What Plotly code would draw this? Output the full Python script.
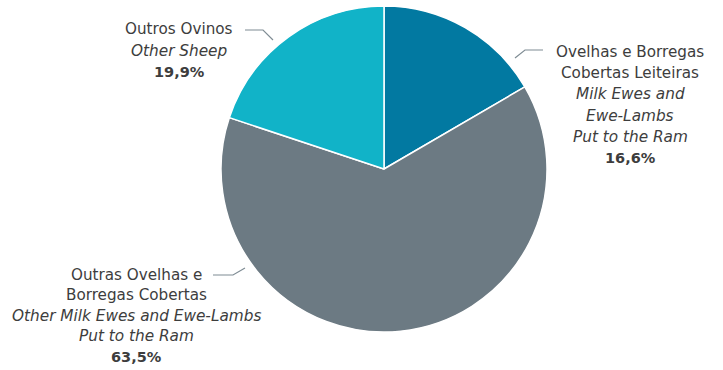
import plotly.graph_objects as go

categories = ["Ovelhas e Borregas Cobertas Leiteiras", "Outras Ovelhas e Borregas Cobertas", "Outros Ovinos"]
values = [16.6, 63.5, 19.9]
colors = ["#0279a1", "#6c7a83", "#11b3c8"]

label_lines = [
    [("Ovelhas e Borregas", ""), ("Cobertas Leiteiras", ""), ("Milk Ewes and", "i"), ("Ewe-Lambs", "i"), ("Put to the Ram", "i"), ("16,6%", "b")],
    [("Outras Ovelhas e", ""), ("Borregas Cobertas", ""), ("Other Milk Ewes and Ewe-Lambs", "i"), ("Put to the Ram", "i"), ("63,5%", "b")],
    [("Outros Ovinos", ""), ("Other Sheep", "i"), ("19,9%", "b")],
]
# label layout (pixels): center x, first line y, line step
label_pos = [(630, 52, 21.2), (136, 275, 20.4), (179, 29.3, 21.2)]
leaders = [
    [(515, 58), (525, 50), (543, 50)],
    [(213, 275), (233, 275), (245, 268)],
    [(245, 30), (263, 30), (273, 40)],
]

W, H = 723, 370
cx, cy, r = 384, 169, 163

fig = go.Figure(go.Pie(
    labels=categories, values=values, sort=False, direction="clockwise", rotation=0,
    marker=dict(colors=colors, line=dict(color="white", width=1.5)),
    textinfo="none", hoverinfo="label+percent", showlegend=False,
    domain=dict(x=[(cx - r) / W, (cx + r) / W], y=[(H - cy - r) / H, (H - cy + r) / H]),
))

font_family = "DejaVu Sans, sans-serif"
annotations = []
for lines, (lx, ly, step) in zip(label_lines, label_pos):
    for i, (txt, style) in enumerate(lines):
        t = txt
        size = 15.2
        if style == "i":
            t = f"<i>{txt}</i>"
            size = 15.3
        elif style == "b":
            t = f"<b>{txt}</b>"
            size = 14.5
        annotations.append(dict(
            x=lx / W, y=1 - (ly + i * step) / H, xref="paper", yref="paper",
            text=t, showarrow=False, xanchor="center", yanchor="middle",
            font=dict(family=font_family, size=size, color="#3d3d3d"),
        ))

shapes = []
for pts in leaders:
    path = "M " + " L ".join(f"{x / W:.5f},{1 - y / H:.5f}" for x, y in pts)
    shapes.append(dict(type="path", path=path, xref="paper", yref="paper",
                       line=dict(color="#7f8c94", width=1.2)))

fig.update_layout(
    width=W, height=H, margin=dict(l=0, r=0, t=0, b=0),
    paper_bgcolor="white", plot_bgcolor="white",
    annotations=annotations, shapes=shapes,
)
fig.write_html("out.html", config={"displayModeBar": False},
               post_script="document.body.style.margin='0';")
